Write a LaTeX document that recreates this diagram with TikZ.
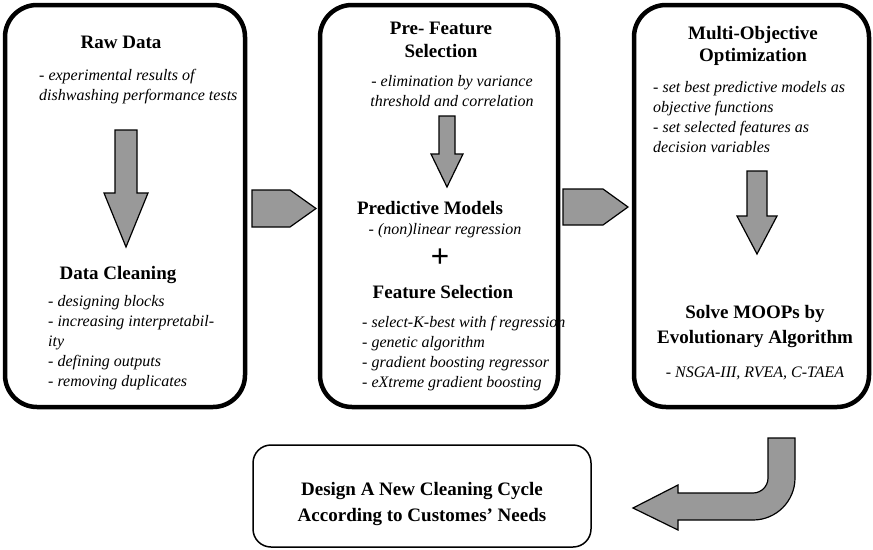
\documentclass[tikz,border=0pt]{standalone}
\usepackage{fontspec}
\setmainfont{Liberation Serif}
\usepackage{tikz}
\usepackage{tkz-euclide}
\definecolor{arrowgray}{gray}{0.6}
\tikzset{
  heading/.style={font=\fontsize{19}{23}\selectfont\bfseries, align=center, inner sep=0pt},
  itemtext/.style={font=\fontsize{16}{20}\selectfont\itshape, align=left, inner sep=0pt},
  bigbox/.style={line width=4.5pt, rounded corners=32pt},
  blockarrow/.style={fill=arrowgray, draw=black, line width=1.2pt, line join=miter}
}

\begin{document}
\begin{tikzpicture}[x=1pt,y=-1pt]
      \useasboundingbox (0,0) rectangle (873,549);

      % three stages
      \draw[bigbox] (5,5) rectangle (245,407);
      \draw[bigbox] (320,5) rectangle (558,407);
      \draw[bigbox] (634,5) rectangle (869,407);
      \draw[line width=1.5pt, rounded corners=18pt] (253,445) rectangle (591,547);

      % stage 1
      \node[heading, anchor=base] (raw) at (121,48) {Raw Data};
      \node[itemtext, anchor=base west] (rawnote) at (39,100) {- experimental results of\\dishwashing performance tests};
      \tkzDefPoint(115,130){a1} \tkzDefPoint(137,130){a2}
      \tkzDefPoint(137,193){a3} \tkzDefPoint(148,193){a4}
      \tkzDefPoint(126,247){a5} \tkzDefPoint(104,193){a6}
      \tkzDefPoint(115,193){a7}
      \tkzDrawPolygon[blockarrow](a1,a2,a3,a4,a5,a6,a7)
      \node[heading, anchor=base] (clean) at (118,279) {Data Cleaning};
      \node[itemtext, anchor=base west] (cleannote) at (48,386) {- designing blocks\\- increasing interpretabil-\\ity\\- defining outputs\\- removing duplicates};

      % stage 2
      \node[heading, anchor=base] (pre) at (441,57) {Pre- Feature\\Selection};
      \node[itemtext, align=center, anchor=base] (prenote) at (452,106) {- elimination by variance\\threshold and correlation};
      \tkzDefPoint(439,116){b1} \tkzDefPoint(455,116){b2}
      \tkzDefPoint(455,154){b3} \tkzDefPoint(463,154){b4}
      \tkzDefPoint(447,187){b5} \tkzDefPoint(431,154){b6}
      \tkzDefPoint(439,154){b7}
      \tkzDrawPolygon[blockarrow](b1,b2,b3,b4,b5,b6,b7)
      \node[heading, anchor=base] (pred) at (430,214) {Predictive Models};
      \node[itemtext, anchor=base] (prednote) at (445,234) {- (non)linear regression};
      \node[font=\fontsize{33}{33}\selectfont\bfseries, inner sep=0pt, anchor=base] (plus) at (440,267) {+};
      \node[heading, anchor=base] (feat) at (443,298) {Feature Selection};
      \node[itemtext, anchor=base west] (featnote) at (362,387) {- select-K-best with f regression\\- genetic algorithm\\- gradient boosting regressor\\- eXtreme gradient boosting};

      % stage 3
      \node[heading, anchor=base, font=\fontsize{19}{22}\selectfont\bfseries] (moo) at (753,61) {Multi-Objective\\Optimization};
      \node[itemtext, anchor=base west] (moonote) at (653,152) {- set best predictive models as\\objective functions\\- set selected features as\\decision variables};
      \tkzDefPoint(747,171){c1} \tkzDefPoint(767,171){c2}
      \tkzDefPoint(767,216){c3} \tkzDefPoint(777,216){c4}
      \tkzDefPoint(757,254){c5} \tkzDefPoint(737,216){c6}
      \tkzDefPoint(747,216){c7}
      \tkzDrawPolygon[blockarrow](c1,c2,c3,c4,c5,c6,c7)
      \node[heading, anchor=base, font=\fontsize{19}{25}\selectfont\bfseries] (solve) at (755,343) {Solve MOOPs by\\Evolutionary Algorithm};
      \node[itemtext, anchor=base] (solvenote) at (755,377) {- NSGA-III, RVEA, C-TAEA};

      % arrows between stages
      \tkzDefPoint(252,190){p1} \tkzDefPoint(290,190){p2}
      \tkzDefPoint(316,208.5){p3} \tkzDefPoint(290,227){p4}
      \tkzDefPoint(252,227){p5}
      \tkzDrawPolygon[blockarrow](p1,p2,p3,p4,p5)
      \tkzDefPoint(563,189){q1} \tkzDefPoint(603,189){q2}
      \tkzDefPoint(628,207){q3} \tkzDefPoint(603,225){q4}
      \tkzDefPoint(563,225){q5}
      \tkzDrawPolygon[blockarrow](q1,q2,q3,q4,q5)

      % turn back to the new cycle
      \tkzDefPoint(768,438){u1} \tkzDefPoint(795,438){u2}
      \tkzDefPoint(795,478){u3} \tkzDefPoint(678,520){u4}
      \tkzDefPoint(678,530){u5} \tkzDefPoint(633,508){u6}
      \tkzDefPoint(678,485){u7} \tkzDefPoint(678,493){u8}
      \tkzDefPoint(753,493){u9}
      \draw[blockarrow] (u1) -- (u2) -- (u3) arc[start angle=0, end angle=90, radius=42]
        -- (u4) -- (u5) -- (u6) -- (u7) -- (u8) -- (u9)
        arc[start angle=90, end angle=0, radius=15] -- cycle;

      \node[heading, anchor=base, font=\fontsize{19}{26}\selectfont\bfseries] (design) at (422,521) {Design A New Cleaning Cycle\\According to Customes’ Needs};
\end{tikzpicture}
\end{document}
